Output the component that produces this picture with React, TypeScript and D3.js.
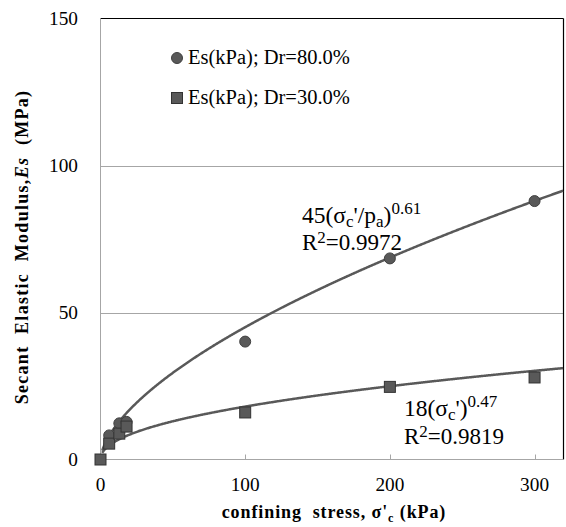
import React from "react";
import * as d3 from "d3";

const dr80X = [6, 13, 18, 100, 200, 300];
const dr80Y = [8.2, 12.3, 12.8, 40.1, 68.4, 87.9];
const dr30X = [0, 6, 13, 18, 100, 200, 300];
const dr30Y = [0, 5.4, 8.8, 11.2, 16.0, 24.7, 27.9];
const yTicks = [0, 50, 100, 150];
const xTicks = [0, 100, 200, 300];
const fit80 = { a: 45, b: 0.61 };
const fit30 = { a: 18, b: 0.47 };
const pa = 100;

const W = 566, H = 527;
const L = 100.5, R = 563.5, T = 18.5, B = 459.5;
const FONT = "Liberation Serif, DejaVu Serif, serif";
const GRAY = "#595959";

export default function App() {
  const x = d3.scaleLinear().domain([0, 320]).range([L, R]);
  const y = d3.scaleLinear().domain([0, 150]).range([B, T]);
  const xs = d3.range(1.2, 320.01, 0.5);
  const line = d3.line<number[]>().x(d => x(d[0])).y(d => y(d[1])).curve(d3.curveLinear);
  const c80 = xs.map(s => [s, fit80.a * Math.pow(s / pa, fit80.b)]);
  const c30 = xs.map(s => [s, fit30.a * Math.pow(s / pa, fit30.b)]);
  const ts = { fontFamily: FONT } as React.CSSProperties;
  const SUB = 17;

  return (
    <svg width={W} height={H} style={{ position: "absolute", left: 0, top: 0, background: "#fff", fontFamily: FONT }}>
      <rect x={0} y={0} width={W} height={H} fill="#fff" />
      {yTicks.filter(t => t > 0 && t < 150).map(t => (
        <line key={t} x1={L} x2={R} y1={Math.round(y(t)) + 0.5} y2={Math.round(y(t)) + 0.5} stroke="#a6a6a6" strokeWidth={1} />
      ))}
      <line x1={L} x2={R} y1={T} y2={T} stroke="#000" strokeWidth={1.2} />
      <line x1={R} x2={R} y1={T} y2={B} stroke="#000" strokeWidth={1.2} />
      <line x1={L} x2={L} y1={T} y2={B} stroke="#a6a6a6" strokeWidth={1} />
      <line x1={L} x2={R} y1={B} y2={B} stroke="#a6a6a6" strokeWidth={1} />
      {xTicks.filter(t => t > 0).map(t => (
        <line key={t} x1={Math.round(x(t)) + 0.5} x2={Math.round(x(t)) + 0.5} y1={B} y2={B - 5} stroke="#a6a6a6" strokeWidth={1} />
      ))}
      {yTicks.map(t => (
        <text key={t} style={ts} x={78} y={y(t)} dy="0.35em" textAnchor="end" fontSize={19.3} fill="#000">{t}</text>
      ))}
      {xTicks.map(t => (
        <text key={t} style={ts} x={x(t)} y={491} textAnchor="middle" fontSize={19.3} fill="#000">{t}</text>
      ))}
      <path d={line(c80 as any) || ""} fill="none" stroke={GRAY} strokeWidth={2.5} />
      <path d={line(c30 as any) || ""} fill="none" stroke={GRAY} strokeWidth={2.5} />
      {dr80X.map((v, i) => (
        <circle key={"c" + i} cx={x(v)} cy={y(dr80Y[i])} r={5.5} fill={GRAY} stroke="#404040" strokeWidth={1} />
      ))}
      {dr30X.map((v, i) => (
        <rect key={"s" + i} x={x(v) - 5.5} y={y(dr30Y[i]) - 5.5} width={11} height={11} fill={GRAY} stroke="#333" strokeWidth={1} />
      ))}
      <circle cx={177} cy={58} r={5.5} fill={GRAY} stroke="#404040" />
      <text style={ts} x={188} y={64} fontSize={20.5} fill="#000">Es(kPa); Dr=80.0%</text>
      <rect x={171.5} y={92.5} width={11} height={11} fill={GRAY} stroke="#333" />
      <text style={ts} x={188} y={104} fontSize={20.5} fill="#000">Es(kPa); Dr=30.0%</text>
      <text style={ts} x={302} y={223} fontSize={23.5} fill="#000">
        45(σ<tspan fontSize={SUB} dy={4}>c</tspan><tspan dy={-4}>'/p</tspan><tspan fontSize={SUB} dy={4}>a</tspan><tspan dy={-4}>)</tspan><tspan fontSize={SUB} dy={-9}>0.61</tspan>
      </text>
      <text style={ts} x={302} y={250} fontSize={23} fill="#000">
        R<tspan fontSize={SUB} dy={-7}>2</tspan><tspan dy={7}>=0.9972</tspan>
      </text>
      <text style={ts} x={404} y={416} fontSize={23.5} fill="#000">
        18(σ<tspan fontSize={SUB} dy={4}>c</tspan><tspan dy={-4}>')</tspan><tspan fontSize={SUB} dy={-9}>0.47</tspan>
      </text>
      <text style={ts} x={404} y={444} fontSize={23} fill="#000">
        R<tspan fontSize={SUB} dy={-7}>2</tspan><tspan dy={7}>=0.9819</tspan>
      </text>
      <text x={334} y={518} textAnchor="middle" fontSize={18} fontWeight="bold" fill="#000" letterSpacing={0.9} style={{ ...ts, whiteSpace: "pre" }}>
        {"confining  stress, σ'"}<tspan fontSize={12} dy={4}>c</tspan><tspan dy={-4}>{" (kPa)"}</tspan>
      </text>
      <text transform="translate(28,247) rotate(-90)" textAnchor="middle" fontSize={18} fontWeight="bold" fill="#000" letterSpacing={1.3} style={{ ...ts, whiteSpace: "pre" }}>
        {"Secant  Elastic  Modulus,"}<tspan fontStyle="italic">Es</tspan>{"  (MPa)"}
      </text>
    </svg>
  );
}
